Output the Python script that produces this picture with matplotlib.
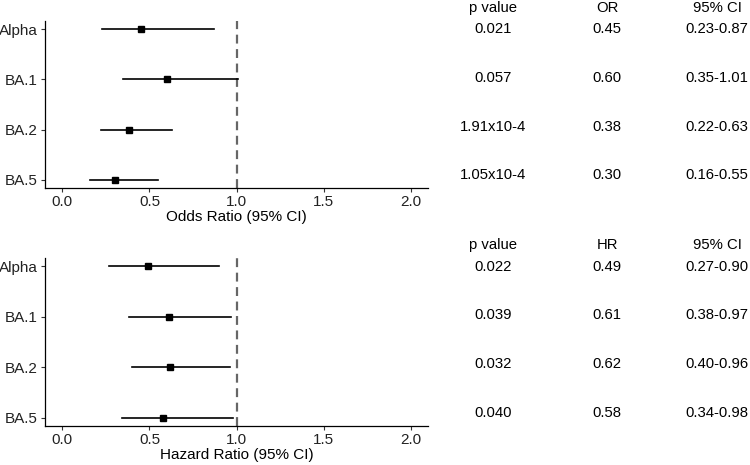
import matplotlib
matplotlib.use("Agg")
import matplotlib.pyplot as plt

plt.rcParams['font.family'] = ['Liberation Sans', 'DejaVu Sans']

variants = ['Alpha', 'BA.1', 'BA.2', 'BA.5']

# odds ratios
or_est = [0.45, 0.60, 0.38, 0.30]
or_lo = [0.23, 0.35, 0.22, 0.16]
or_hi = [0.87, 1.01, 0.63, 0.55]
or_p = ['0.021', '0.057', '1.91x10-4', '1.05x10-4']

# hazard ratios
hr_est = [0.49, 0.61, 0.62, 0.58]
hr_lo = [0.27, 0.38, 0.40, 0.34]
hr_hi = [0.90, 0.97, 0.96, 0.98]
hr_p = ['0.022', '0.039', '0.032', '0.040']

xticks = [0.0, 0.5, 1.0, 1.5, 2.0]

fig = plt.figure(figsize=(7.5, 4.65), dpi=100)


def forest(ax, est, lo, hi, xlabel):
    ypos = list(range(len(variants), 0, -1))
    for y, e, l, h in zip(ypos, est, lo, hi):
        ax.plot([l, h], [y, y], color='black', lw=1.2, zorder=2)
        ax.plot(e, y, marker='s', color='black', markersize=4.6, zorder=3)
    ax.axvline(1.0, color='#666666', lw=1.6, ls=(0, (4, 2.5)), zorder=1)
    ax.set_xlim(-0.1, 2.1)
    ax.set_ylim(0.84, 4.16)
    ax.set_yticks(ypos)
    ax.set_yticklabels(variants)
    ax.set_xticks(xticks)
    ax.set_xticklabels(['%.1f' % t for t in xticks])
    ax.spines['top'].set_visible(False)
    ax.spines['right'].set_visible(False)
    for s in ['left', 'bottom']:
        ax.spines[s].set_linewidth(0.9)
    ax.tick_params(axis='both', length=3, width=0.8, color='#333333',
                   labelsize=11, labelcolor='#222222', pad=2)
    ax.set_xlabel(xlabel, fontsize=11, labelpad=1)


ax1 = fig.add_axes([0.06, 0.5957, 0.5107, 0.3591])
forest(ax1, or_est, or_lo, or_hi, 'Odds Ratio (95% CI)')

ax2 = fig.add_axes([0.06, 0.0839, 0.5107, 0.3613])
forest(ax2, hr_est, hr_lo, hr_hi, 'Hazard Ratio (95% CI)')

# side tables
col_x = [493 / 750, 607 / 750, 717 / 750]


def table(header, rows_y, header_y, pvals, est, lo, hi):
    for x, h in zip(col_x, header):
        fig.text(x, 1 - header_y / 465, h, ha='center', va='center', fontsize=10.7)
    for y, p, e, l, h in zip(rows_y, pvals, est, lo, hi):
        vals = [p, '%.2f' % e, '%.2f-%.2f' % (l, h)]
        for x, v in zip(col_x, vals):
            fig.text(x, 1 - y / 465, v, ha='center', va='center', fontsize=10.7)


table(['p value', 'OR', '95% CI'], [29, 78, 127, 175], 8, or_p, or_est, or_lo, or_hi)
table(['p value', 'HR', '95% CI'], [267, 315, 364, 413], 245, hr_p, hr_est, hr_lo, hr_hi)

fig.savefig('out.png', dpi=100)
